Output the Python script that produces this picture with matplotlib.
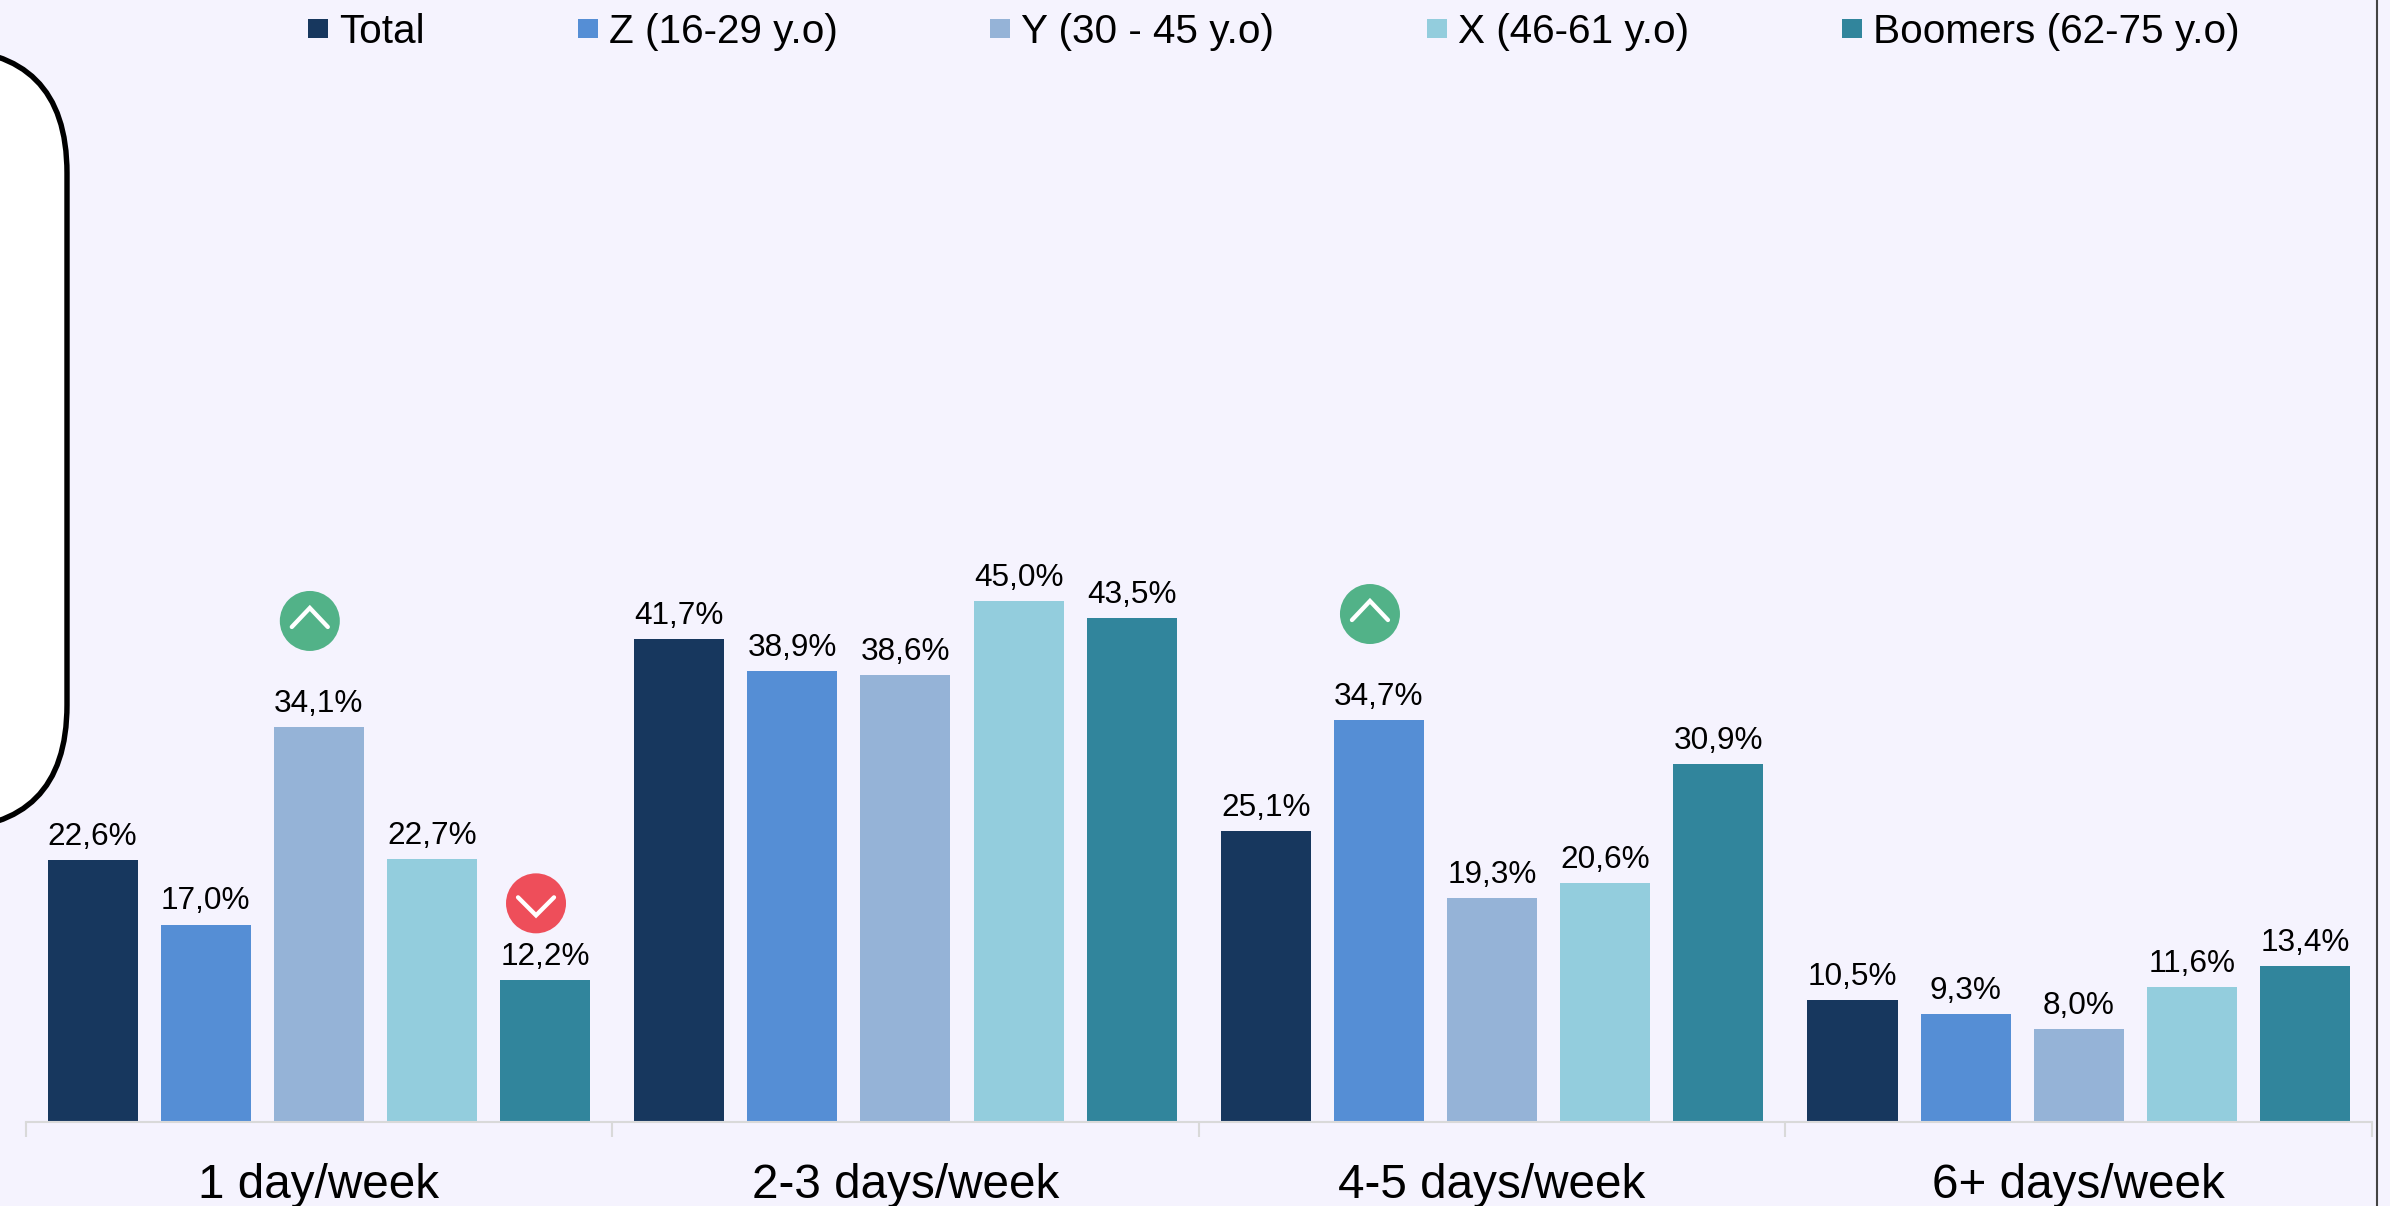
import numpy as np
import matplotlib
matplotlib.use("Agg")
import matplotlib.pyplot as plt
from matplotlib.patches import Circle, FancyBboxPatch
from matplotlib.lines import Line2D
from matplotlib.transforms import IdentityTransform

plt.rcParams['font.family'] = ['Liberation Sans', 'DejaVu Sans']

categories = ["1 day/week", "2-3 days/week", "4-5 days/week", "6+ days/week"]
series_names = ["Total", "Z (16-29 y.o)", "Y (30 - 45 y.o)", "X (46-61 y.o)", "Boomers (62-75 y.o)"]
total = [22.6, 41.7, 25.1, 10.5]
gen_z = [17.0, 38.9, 34.7, 9.3]
gen_y = [34.1, 38.6, 19.3, 8.0]
gen_x = [22.7, 45.0, 20.6, 11.6]
boomers = [12.2, 43.5, 30.9, 13.4]
all_series = [total, gen_z, gen_y, gen_x, boomers]
colors = ["#17375E", "#558ED5", "#95B3D7", "#93CDDD", "#31859C"]

# (category, series, direction)
badges = [(0, 2, "up"), (0, 4, "down"), (2, 1, "up")]

W, H = 2390, 1206
BG = "#F5F3FE"
fig = plt.figure(figsize=(W / 100, H / 100), dpi=100, facecolor=BG)

# axes spans the bars, baseline at y=1121 px
left, right, base = 25.5, 2372, 1121.5
ax = fig.add_axes([left / W, (H - base) / H, (right - left) / W, base / H])
ax.set_facecolor("none")
ax.set_xlim(-0.5, 3.5)
ax.set_ylim(0, base / 11.57)

pitch = 0.1928
width = 0.1535
x = np.arange(len(categories))
for i, (vals, name, c) in enumerate(zip(all_series, series_names, colors)):
    bars = ax.bar(x + (i - 2) * pitch, vals, width, color=c, label=name, zorder=2)
    labels = [("%.1f%%" % v).replace(".", ",") for v in vals]
    ax.bar_label(bars, labels=labels, fontsize=22.7, color="black", padding=6)

for s in ["top", "right", "left"]:
    ax.spines[s].set_visible(False)
ax.spines["bottom"].set_color("#D9D9D9")
ax.spines["bottom"].set_linewidth(1.5)
ax.set_yticks([])
ax.set_xticks(x)
ax.set_xticklabels(categories, fontsize=34.3)
ax.tick_params(axis="x", which="major", length=0, pad=30)
ax.set_xticks(np.arange(-0.5, 4, 1), minor=True)
ax.tick_params(axis="x", which="minor", length=10.5, width=1.5, color="#D9D9D9")

# white rounded box cut by the left edge
box = FancyBboxPatch((-400, H - 829), 467, 780, boxstyle="round,pad=0,rounding_size=124",
                     facecolor="white", edgecolor="black", linewidth=3.9,
                     transform=IdentityTransform(), zorder=5)
fig.add_artist(box)

# dark rule down the right side
fig.add_artist(Line2D([2377 / W, 2377 / W], [0, 1], color="#444444", linewidth=1.5,
                      transform=fig.transFigure))

# up / down badges, placed relative to their bar
fig.canvas.draw()
for cat, ser, direction in badges:
    bx, by = ax.transData.transform((x[cat] + (ser - 2) * pitch, all_series[ser][cat]))
    cx = bx - 9
    if direction == "up":
        cy = by + 106
        col = "#52B288"
        xs = [cx - 18, cx, cx + 18]
        ys = [cy - 6, cy + 13, cy - 6]
    else:
        cy = by + 77
        col = "#EE4E5A"
        xs = [cx - 18, cx, cx + 18]
        ys = [cy + 6, cy - 12, cy + 6]
    fig.add_artist(Circle((cx, cy), 30, facecolor=col, edgecolor="none",
                          transform=IdentityTransform(), zorder=6))
    fig.add_artist(Line2D(xs, ys, color="white", linewidth=3.1, solid_capstyle="round",
                          solid_joinstyle="miter", transform=IdentityTransform(), zorder=7))

fig.legend(loc="center", bbox_to_anchor=(1274 / W, 1 - 32 / H), ncol=5, frameon=False,
           fontsize=29.2, handlelength=0.493, handleheight=0.38, handletextpad=0.27,
           columnspacing=3.77, borderpad=0, borderaxespad=0)

fig.savefig("out.png", dpi=100, facecolor=BG)
